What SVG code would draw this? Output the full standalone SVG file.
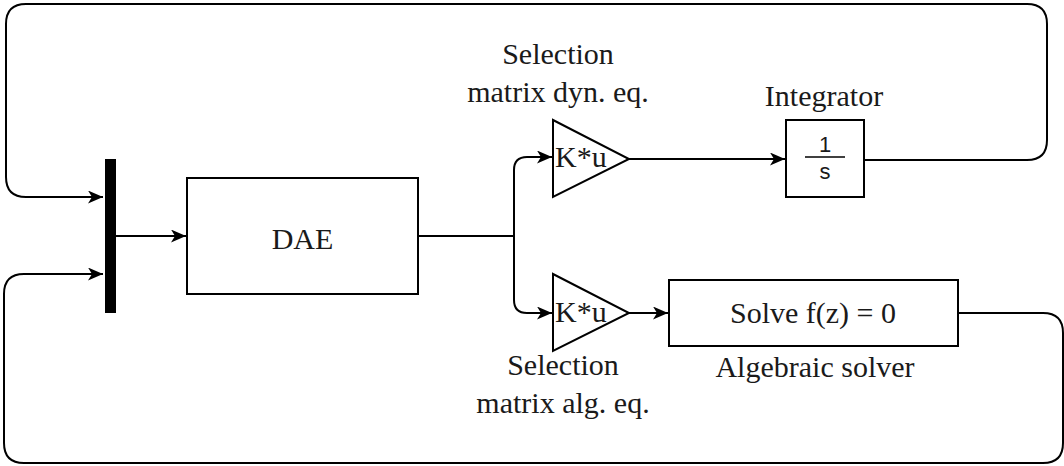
<svg xmlns="http://www.w3.org/2000/svg" width="1064" height="466" viewBox="0 0 1064 466">
<style>
.blk{fill:#fff;stroke:#000;stroke-width:2}
.ln{fill:none;stroke:#000;stroke-width:2}
.arr{marker-end:url(#ah)}
.t{font-family:"Liberation Serif","Times New Roman",serif;font-size:30px;fill:#1a1a1a}
.m{text-anchor:middle}
.s{font-family:"Liberation Sans",Arial,sans-serif;font-size:22px;fill:#1a1a1a;text-anchor:middle}
</style>
<defs>
<marker id="ah" markerWidth="16" markerHeight="13" refX="15" refY="6.5" orient="auto" markerUnits="userSpaceOnUse">
<path d="M0,0 L15,6.5 L0,13 L4,6.5 Z" fill="#000"/>
</marker>
</defs>
<g id="connectors">
<path class="ln arr" d="M864,160 H1027 Q1047,160 1047,140 V24 Q1047,4 1027,4 H26 Q6,4 6,24 V177 Q6,197 26,197 H103"/>
<path class="ln arr" d="M958,313 H1043 Q1063,313 1063,333 V443 Q1063,463 1043,463 H24 Q4,463 4,443 V294 Q4,274 24,274 H103"/>
<path class="ln arr" d="M116,236 H186"/>
<path class="ln arr" d="M418,236 H514 V170 Q514,157 527,157 H552"/>
<path class="ln arr" d="M514,236 V300 Q514,313 527,313 H552"/>
<path class="ln arr" d="M629,159 H785"/>
<path class="ln arr" d="M629,313 H668"/>
</g>
<g id="mux">
<rect x="105" y="159" width="11" height="154" fill="#000"/>
</g>
<g id="dae">
<rect class="blk" x="187" y="178" width="231" height="116"/>
<text class="t m" x="302.5" y="249">DAE</text>
</g>
<g id="gain-dyn">
<polygon class="blk" points="553,120 553,197 629,159"/>
<text class="t" x="555" y="167">K*u</text>
<text class="t m" x="558" y="64">Selection</text>
<text class="t m" x="558" y="102">matrix dyn. eq.</text>
</g>
<g id="gain-alg">
<polygon class="blk" points="553,274 553,351 629,313"/>
<text class="t" x="555" y="322">K*u</text>
<text class="t m" x="563" y="375">Selection</text>
<text class="t m" x="563" y="413">matrix alg. eq.</text>
</g>
<g id="integrator">
<rect class="blk" x="786" y="120" width="78" height="77"/>
<text class="s" x="825" y="152">1</text>
<line x1="805" y1="157" x2="845" y2="157" stroke="#000" stroke-width="1.5"/>
<text class="s" x="825" y="179">s</text>
<text class="t m" x="824" y="106">Integrator</text>
</g>
<g id="solver">
<rect class="blk" x="669" y="280" width="289" height="66"/>
<text class="t m" x="813" y="323">Solve f(z) = 0</text>
<text class="t m" x="815" y="377">Algebraic solver</text>
</g>
</svg>
